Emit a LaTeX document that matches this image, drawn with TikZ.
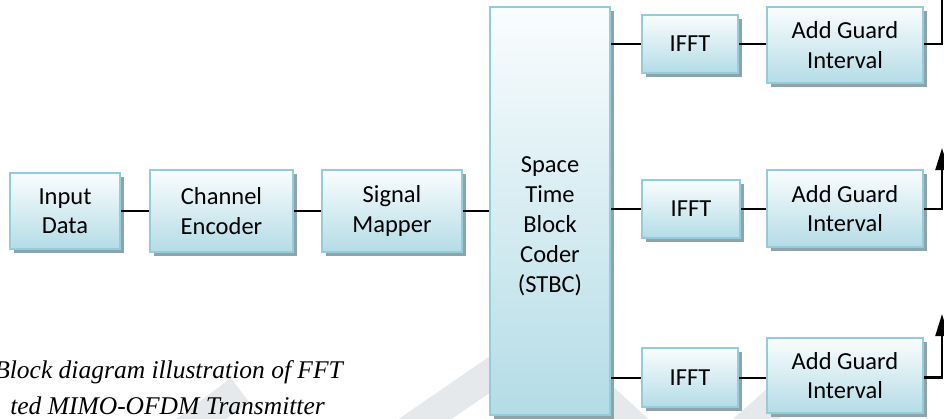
\documentclass[tikz,border=0pt]{standalone}
\usepackage{fontspec}
\setmainfont{Carlito}
\newfontfamily\capfont{Liberation Serif}
\usetikzlibrary{shadows,arrows.meta,calc}
\definecolor{boxedge}{HTML}{92CDDC}
\definecolor{boxtop}{HTML}{FAFDFE}
\definecolor{boxbot}{HTML}{B4DCE6}
\definecolor{boxshade}{HTML}{8FA3AB}
\definecolor{wmark}{HTML}{E5E9EB}
\tikzset{
  blockbox/.style={rectangle, draw=boxedge, line width=2pt,
    top color=boxtop, bottom color=boxbot, shading angle=0,
    general shadow={fill=boxshade, shadow xshift=3.5pt, shadow yshift=-3.5pt},
    inner sep=0pt, align=center,
    font=\fontsize{24.5}{29.5}\selectfont},
  wire/.style={line width=2pt, black},
  outwire/.style={line width=2.2pt, black, -{Triangle[width=13pt,length=22pt]}},
  captext/.style={font=\capfont\itshape\fontsize{25.5}{30}\selectfont, inner sep=0pt}
}
\begin{document}
\begin{tikzpicture}[x=1pt,y=-1pt]
\useasboundingbox (0,0) rectangle (944,418);
\clip (0,0) rectangle (944,418);

% faint background watermark
\draw[wmark, line width=30pt] (380,450) -- (540,340) -- (660,450);
\draw[wmark, line width=30pt] (160,450) -- (240,390);
\draw[wmark, line width=30pt] (720,450) -- (800,380);

% caption (cut by the frame on the left and bottom)
\node[captext, anchor=base east] (cap1) at (343,378) {Block diagram illustration of FFT};
\node[captext, anchor=base east] (cap2) at (325,414) {ted MIMO-OFDM Transmitter};

% processing chain
\node[blockbox, minimum width=110pt, minimum height=76pt] (in)  at (65,211)   {Input\\Data};
\node[blockbox, minimum width=143pt, minimum height=82pt] (enc) at (221.5,211) {Channel\\Encoder};
\node[blockbox, minimum width=140pt, minimum height=82pt] (map) at (392,211)  {Signal\\Mapper};
\node[blockbox, minimum width=120pt, minimum height=408pt] (stbc) at (550,211) {};
\node[align=center, inner sep=0pt, font=\fontsize{24.5}{30}\selectfont] (stbctxt) at (550,226)
  {Space\\Time\\Block\\Coder\\(STBC)};

\node[blockbox, minimum width=96pt, minimum height=58pt] (f1) at (690,44)    {IFFT};
\node[blockbox, minimum width=98pt, minimum height=58pt] (f2) at (691,209)   {IFFT};
\node[blockbox, minimum width=96pt, minimum height=59pt] (f3) at (690,377.5) {IFFT};

\node[blockbox, minimum width=156pt, minimum height=76pt] (g1) at (845,45)    {Add Guard\\Interval};
\node[blockbox, minimum width=156pt, minimum height=77pt] (g2) at (845,208.5) {Add Guard\\Interval};
\node[blockbox, minimum width=156pt, minimum height=75pt] (g3) at (845,375.5) {Add Guard\\Interval};

% antenna feed end points
\coordinate (a1) at (942,-30);
\coordinate (a2) at (942,148);
\coordinate (a3) at (942,314);

% connectors
\draw[wire] (in.east) -- (enc.west);
\draw[wire] (enc.east) -- (map.west);
\draw[wire] (map.east) -- (stbc.west |- map.east);
\foreach \k in {1,2,3}{
  \draw[wire] (stbc.east |- f\k.west) -- (f\k.west);
  \draw[wire] (f\k.east) -- (g\k.west |- f\k.east);
  \draw[outwire] (g\k.east |- f\k.east) -| (a\k);
}
\end{tikzpicture}
\end{document}
